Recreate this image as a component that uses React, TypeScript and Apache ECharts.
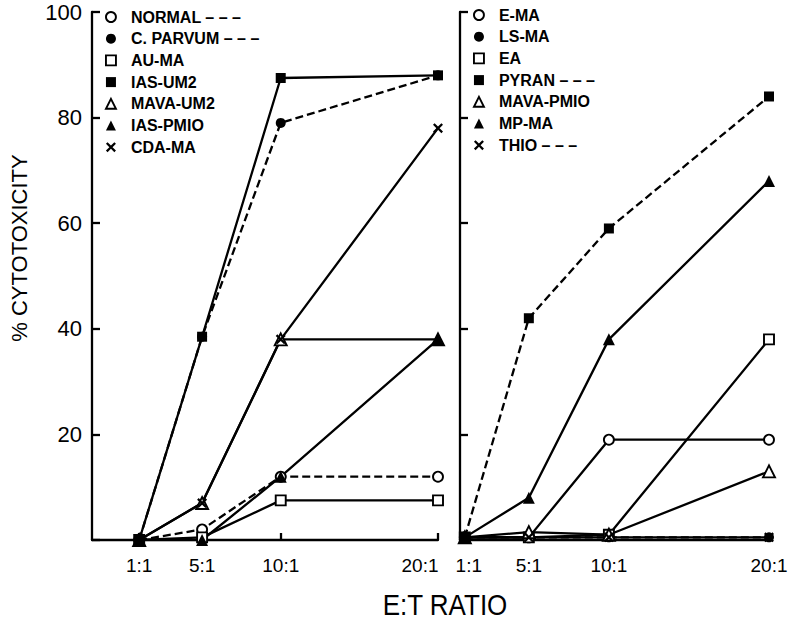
import React, { useEffect, useRef } from 'react';
import * as echarts from 'echarts';

// E:T ratio positions (1:1, 5:1, 10:1, 20:1)
const ratioValues = [1, 5, 10, 20];
const ratioLabels = ['1:1', '5:1', '10:1', '20:1'];

// Left panel (% cytotoxicity)
const normal = [0, 2, 12, 12];
const cParvum = [0, 38.5, 79, 88];
const auMa = [0, 0.5, 7.5, 7.5];
const iasUm2 = [0, 38.5, 87.5, 88];
const mavaUm2 = [0, 7, 38, 38];
const iasPmio = [0, 0, 12, 38];
const cdaMa = [0, 7, 38, 78];

// Right panel (% cytotoxicity)
const eMa = [0.5, 0.5, 19, 19];
const lsMa = [0.5, 0.5, 0.5, 0.5];
const ea = [0.5, 0.5, 1, 38];
const pyran = [0.5, 42, 59, 84];
const mavaPmio = [0.5, 1.5, 1, 13];
const mpMa = [0.5, 8, 38, 68];
const thio = [0.5, 0.5, 0.5, 0.5];

const FONT = "'Liberation Sans', Arial, sans-serif";
const X_PATH =
  'path://M0,1.6L1.6,0L5,3.4L8.4,0L10,1.6L6.6,5L10,8.4L8.4,10L5,6.6L1.6,10L0,8.4L3.4,5Z';

type Mk = 'oc' | 'fc' | 'os' | 'fs' | 'ot' | 'ft' | 'x';
const symbolOf = (m: Mk) =>
  m === 'oc' || m === 'fc' ? 'circle' : m === 'os' || m === 'fs' ? 'rect' : m === 'x' ? X_PATH : 'triangle';
const sizeOf = (m: Mk) => (m === 'ot' || m === 'ft' ? 12 : 10);
const styleOf = (m: Mk) =>
  m === 'oc' || m === 'os' || m === 'ot'
    ? { color: '#fff', borderColor: '#000', borderWidth: 1.9 }
    : { color: '#000', borderColor: '#000', borderWidth: 0 };

const leftSeriesDef: [string, number[], Mk, boolean][] = [
  ['NORMAL', normal, 'oc', true],
  ['C. PARVUM', cParvum, 'fc', true],
  ['AU-MA', auMa, 'os', false],
  ['IAS-UM2', iasUm2, 'fs', false],
  ['MAVA-UM2', mavaUm2, 'ot', false],
  ['IAS-PMIO', iasPmio, 'ft', false],
  ['CDA-MA', cdaMa, 'x', false],
];
const rightSeriesDef: [string, number[], Mk, boolean][] = [
  ['E-MA', eMa, 'oc', false],
  ['LS-MA', lsMa, 'fc', false],
  ['EA', ea, 'os', false],
  ['PYRAN', pyran, 'fs', true],
  ['MAVA-PMIO', mavaPmio, 'ot', false],
  ['MP-MA', mpMa, 'ft', false],
  ['THIO', thio, 'x', true],
];

const dashedNames = new Set(
  [...leftSeriesDef, ...rightSeriesDef].filter((d) => d[3]).map((d) => d[0])
);

function makeSeries(defs: [string, number[], Mk, boolean][], idx: number) {
  return defs.map(([name, vals, mk, dashed]) => ({
    name,
    type: 'line',
    xAxisIndex: idx,
    yAxisIndex: idx,
    data: ratioValues.map((x, i) => [x, vals[i]]),
    symbol: symbolOf(mk),
    symbolSize: sizeOf(mk),
    showAllSymbol: true,
    lineStyle: { color: '#000', width: 2.3, type: dashed ? [8, 4] : 'solid' },
    itemStyle: styleOf(mk),
    emphasis: { disabled: true },
  }));
}

function makeLegend(defs: [string, number[], Mk, boolean][], left: number, top: number) {
  return {
    orient: 'vertical',
    left,
    top,
    padding: 0,
    itemWidth: 10,
    itemHeight: 10,
    itemGap: 5.7,
    selectedMode: false,
    data: defs.map(([name, , mk]) => ({
      name,
      icon: symbolOf(mk),
      itemStyle: styleOf(mk),
    })),
    formatter: (n: string) => (dashedNames.has(n) ? n + ' \u2013 \u2013 \u2013' : n),
    textStyle: {
      fontFamily: FONT,
      fontSize: 16,
      fontWeight: 'bold',
      lineHeight: 16,
      color: '#000',
      padding: [0, 0, 0, 10],
    },
  };
}

const axisLineStyle = { color: '#000', width: 2.3 };
const labelBase = { fontFamily: FONT, fontSize: 19, color: '#000' };

function makeXAxis(idx: number, min: number, pads: number[][]) {
  const rich: Record<string, any> = {};
  pads.forEach((p, i) => {
    rich['p' + i] = { ...labelBase, padding: p };
  });
  return {
    gridIndex: idx,
    type: 'value',
    min,
    max: 20,
    axisLine: { show: true, onZero: false, lineStyle: axisLineStyle },
    axisTick: { show: true, inside: true, length: 7, customValues: ratioValues, lineStyle: axisLineStyle },
    axisLabel: {
      customValues: ratioValues,
      formatter: (v: number) => {
        const i = ratioValues.indexOf(v);
        return i < 0 ? '' : `{p${i}|${ratioLabels[i]}}`;
      },
      ...labelBase,
      margin: 16,
      rich,
    },
    splitLine: { show: false },
  };
}

function makeYAxis(idx: number, showLabels: boolean) {
  return {
    gridIndex: idx,
    type: 'value',
    min: 0,
    max: 100,
    interval: 20,
    axisLine: { show: true, onZero: false, lineStyle: axisLineStyle },
    axisTick: { show: true, inside: true, length: 8, lineStyle: axisLineStyle },
    axisLabel: {
      show: showLabels,
      formatter: (v: number) => (v === 0 ? '' : String(v)),
      color: '#000',
      fontFamily: FONT,
      fontSize: 22,
      margin: 10,
    },
    splitLine: { show: false },
  };
}

export default function App() {
  const ref = useRef<HTMLDivElement>(null);
  useEffect(() => {
    if (!ref.current) return;
    const chart = echarts.init(ref.current, undefined, { renderer: 'svg' });
    chart.setOption({
      animation: false,
      backgroundColor: '#fff',
      grid: [
        { left: 92, top: 12, width: 346, height: 528 },
        { left: 460, top: 12, width: 309, height: 528 },
      ],
      xAxis: [
        makeXAxis(0, -2, [[0, 0, 0, 0], [0, 0, 0, 0], [0, 0, 0, 0], [0, 36, 0, 0]]),
        makeXAxis(1, 0.7, [[0, 0, 0, 8], [0, 0, 0, 0], [0, 0, 0, 0], [0, 0, 0, 0]]),
      ],
      yAxis: [makeYAxis(0, true), makeYAxis(1, false)],
      legend: [makeLegend(leftSeriesDef, 105, 9), makeLegend(rightSeriesDef, 473, 7)],
      series: [...makeSeries(leftSeriesDef, 0), ...makeSeries(rightSeriesDef, 1)],
      graphic: [
        {
          type: 'text',
          x: 19,
          y: 248,
          rotation: Math.PI / 2,
          style: {
            text: '% CYTOTOXICITY',
            fontFamily: FONT,
            fontSize: 22,
            fill: '#000',
            textAlign: 'center',
            textVerticalAlign: 'middle',
          },
        },
        {
          type: 'text',
          x: 445,
          y: 605,
          scaleY: 1.15,
          style: {
            text: 'E:T RATIO',
            fontFamily: FONT,
            fontSize: 26,
            fill: '#000',
            textAlign: 'center',
            textVerticalAlign: 'middle',
          },
        },
      ],
    });
    return () => chart.dispose();
  }, []);
  return (
    <div
      ref={ref}
      style={{ position: 'absolute', left: 0, top: 0, width: 793, height: 622, background: '#fff' }}
    />
  );
}
